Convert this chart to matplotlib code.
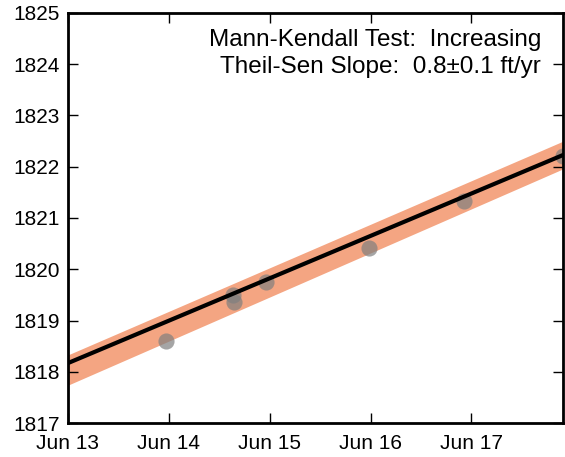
import numpy as np
import pandas as pd
import matplotlib
matplotlib.use("Agg")
import matplotlib.pyplot as plt
import matplotlib.dates as mdates

# === Data ===
obs_dates = pd.to_datetime([
    "2016-06-13 23:15", "2016-06-14 15:10", "2016-06-14 15:35",
    "2016-06-14 23:15", "2016-06-15 23:40", "2016-06-16 22:10",
    "2016-06-17 21:50",
])
obs_levels = [1818.60, 1819.50, 1819.37, 1819.75, 1820.42, 1821.33, 1822.21]

trend_dates = pd.to_datetime(["2016-06-13 00:00", "2016-06-17 21:50"])
trend_levels = [1818.17, 1822.23]
band_lower = [1817.74, 1821.96]
band_upper = [1818.33, 1822.50]

test_label = "Mann-Kendall Test:  Increasing"
slope_label = "Theil-Sen Slope:  0.8\u00b10.1 ft/yr"

# === Plot ===
plt.rcParams["font.family"] = ["Liberation Sans", "DejaVu Sans"]
fig = plt.figure(figsize=(5.65, 4.57), dpi=100)
ax = fig.add_axes([0.120, 0.074, 0.877, 0.898])

ax.fill_between(trend_dates, band_lower, band_upper, color="#f4a582", lw=0, zorder=1)
ax.plot(trend_dates, trend_levels, color="black", lw=3, zorder=3)
ax.scatter(obs_dates, obs_levels, s=135, color="#7f7f7f", alpha=0.7, lw=0, zorder=2)

ax.set_xlim(trend_dates[0], trend_dates[-1])
ax.set_ylim(1817, 1825)
ax.xaxis.set_major_locator(mdates.DayLocator())
ax.xaxis.set_major_formatter(mdates.DateFormatter("%b %d"))
ax.set_yticks(np.arange(1817, 1826, 1))

ax.tick_params(direction="in", length=7, width=1.0, labelsize=15,
               top=True, right=True, pad=6)
ax.tick_params(axis="x", pad=7.5)
for s in ax.spines.values():
    s.set_linewidth(2)

ax.text(0.955, 0.96, test_label, transform=ax.transAxes, ha="right", va="top",
        fontsize=17.5)
ax.text(0.955, 0.895, slope_label, transform=ax.transAxes, ha="right", va="top",
        fontsize=17.5)

fig.savefig("out.png", dpi=100)
